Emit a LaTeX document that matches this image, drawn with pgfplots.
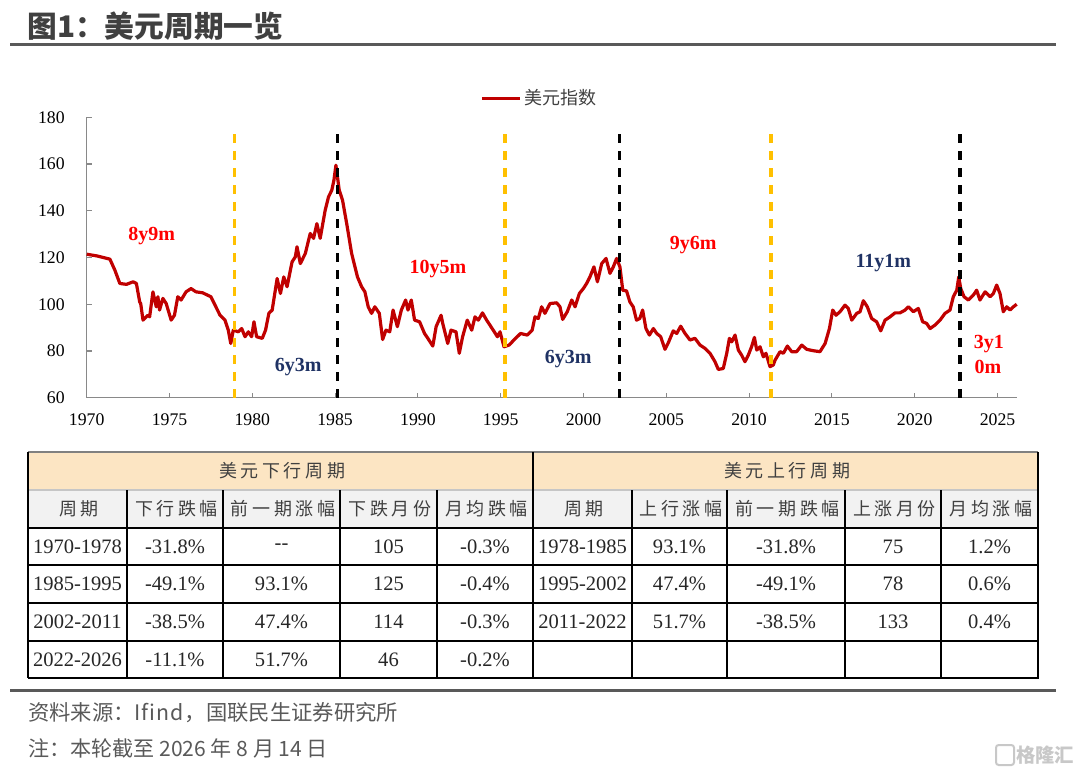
\documentclass[border=0pt]{standalone}
\usepackage{pgfplots}
\pgfplotsset{compat=1.18}
\usepackage{fontspec}
\setmainfont{Liberation Serif}
\newfontfamily\cjk{Noto Sans CJK SC}
\newfontfamily\cjksp{Noto Sans CJK SC}[LetterSpace=20]
\definecolor{dred}{RGB}{192,0,0}
\definecolor{dyel}{RGB}{255,192,0}
\definecolor{navy}{RGB}{31,50,100}
\definecolor{beige}{RGB}{252,229,195}
\definecolor{hdrgray}{RGB}{242,242,242}
\definecolor{ttl}{RGB}{64,64,64}
\definecolor{ftgray}{RGB}{89,89,89}
\definecolor{axgray}{RGB}{137,137,137}
\definecolor{numc}{RGB}{38,38,38}
\definecolor{wm}{RGB}{200,200,200}

\pgfplotstableread{
yr val
1970.0 121.4
1970.6 120.7
1971.4 119.3
1971.7 114.6
1972.0 108.9
1972.4 108.5
1972.8 109.6
1973.0 108.9
1973.2 101.0
1973.26 100.3
1973.4 93.2
1973.7 95.3
1973.8 94.6
1974.0 105.3
1974.2 98.9
1974.3 103.2
1974.4 97.5
1974.6 102.5
1974.8 100.3
1975.1 93.2
1975.3 95.3
1975.5 103.2
1975.7 101.8
1976.0 105.3
1976.3 106.7
1976.6 105.3
1977.0 104.9
1977.5 103.2
1977.8 98.9
1978.05 95.3
1978.35 93.2
1978.55 88.9
1978.7 83.2
1978.85 88.9
1979.16 88.2
1979.36 89.6
1979.56 86.1
1979.76 88.2
1979.96 86.1
1980.1 92.5
1980.26 86.1
1980.6 85.4
1980.8 88.9
1981.0 96.1
1981.2 97.5
1981.5 111.0
1981.7 104.6
1981.9 111.7
1982.1 107.5
1982.4 118.1
1982.6 120.3
1982.7 124.6
1982.9 117.4
1983.2 121.7
1983.5 130.3
1983.7 128.2
1983.9 134.5
1984.1 128.2
1984.4 140.2
1984.6 145.9
1984.8 148.8
1984.93 153.1
1985.05 159.5
1985.13 155.2
1985.25 148.8
1985.45 144.5
1985.7 134.5
1986.0 121.7
1986.2 116.0
1986.35 111.7
1986.6 107.5
1986.8 105.3
1987.0 98.9
1987.2 96.1
1987.4 98.9
1987.67 96.1
1987.87 84.9
1988.07 88.9
1988.3 88.2
1988.5 97.5
1988.76 90.4
1989.0 97.5
1989.26 101.8
1989.4 97.5
1989.6 101.8
1989.8 93.2
1990.1 92.5
1990.4 87.5
1990.6 85.4
1990.9 82.1
1991.1 90.4
1991.4 95.3
1991.5 91.8
1991.8 83.2
1992.0 88.9
1992.3 88.2
1992.5 79.0
1992.7 86.1
1992.98 93.2
1993.25 88.9
1993.45 94.6
1993.65 93.2
1993.9 96.3
1994.15 93.2
1994.55 88.9
1994.8 86.1
1994.96 88.2
1995.2 81.8
1995.5 82.5
1995.8 84.7
1996.2 87.5
1996.6 86.8
1996.9 88.9
1997.07 94.6
1997.27 93.9
1997.47 98.9
1997.67 96.1
1997.98 100.3
1998.38 100.6
1998.58 98.9
1998.74 93.5
1999.02 96.8
1999.29 101.8
1999.49 98.9
1999.75 104.6
1999.99 106.7
2000.19 108.9
2000.39 111.7
2000.63 116.0
2000.84 109.6
2001.1 117.4
2001.36 119.6
2001.6 113.2
2001.8 116.0
2002.0 119.6
2002.2 116.0
2002.37 106.0
2002.6 105.7
2002.8 101.0
2003.0 98.9
2003.2 93.2
2003.4 93.9
2003.57 97.5
2003.77 89.6
2003.98 86.8
2004.22 89.6
2004.42 87.5
2004.66 86.1
2004.92 80.7
2005.12 83.5
2005.42 88.6
2005.63 87.5
2005.87 90.6
2006.13 87.5
2006.43 84.7
2006.73 85.4
2007.04 82.5
2007.34 81.1
2007.64 79.0
2007.94 75.4
2008.14 72.1
2008.44 72.5
2008.65 79.0
2008.81 85.4
2008.95 83.9
2009.15 86.8
2009.35 80.4
2009.55 78.2
2009.75 75.4
2009.95 78.2
2010.15 81.8
2010.32 85.8
2010.46 80.4
2010.66 81.8
2010.86 77.5
2011.02 79.0
2011.26 73.3
2011.46 74.0
2011.57 76.1
2011.87 79.7
2012.07 79.0
2012.31 82.1
2012.57 79.7
2012.87 79.7
2013.18 82.5
2013.48 80.7
2013.88 80.1
2014.28 79.7
2014.59 83.2
2014.85 89.6
2015.05 97.5
2015.25 95.3
2015.49 96.8
2015.79 99.6
2015.99 98.2
2016.2 93.2
2016.5 96.1
2016.7 96.8
2016.9 101.5
2017.14 98.9
2017.4 93.9
2017.7 92.5
2017.95 88.6
2018.21 93.2
2018.51 94.6
2018.81 96.3
2019.11 96.3
2019.42 97.5
2019.62 98.9
2019.92 96.8
2020.22 98.2
2020.48 92.5
2020.72 91.8
2020.93 89.6
2021.23 91.1
2021.53 93.2
2021.83 96.1
2022.13 97.5
2022.33 103.2
2022.54 106.0
2022.66 111.7
2022.78 106.7
2022.98 103.2
2023.24 101.8
2023.54 103.9
2023.74 106.0
2023.94 101.8
2024.25 105.3
2024.55 103.2
2024.75 104.6
2024.95 108.2
2025.15 104.6
2025.35 96.8
2025.56 98.9
2025.76 97.5
2025.96 98.9
2026.16 100.0
}\dxy

\begin{document}
\begin{tikzpicture}[x=0.75pt,y=-0.75pt]
\useasboundingbox (0,0) rectangle (1080,773);
% title
\node[anchor=west,inner sep=0pt,text=ttl,font=\cjk\bfseries\fontsize{22.3}{26}\selectfont] at (27,26.5) {图1：美元周期一览};
\fill[ftgray] (10,43) rectangle (1056,46.3);

\begin{axis}[
  at={(65.025pt,-298.275pt)}, anchor=south west,
  width=697.5pt, height=210.3pt, scale only axis,
  xmin=1970, xmax=2026.16, ymin=60, ymax=180,
  axis x line*=bottom, axis y line*=left,
  axis line style={draw=axgray, line width=1pt, -},
  xtick={1970,1975,...,2025}, ytick={60,80,...,180},
  tick align=inside, major tick length=3.75pt,
  tick style={draw=axgray, line width=0.8pt},
  /pgf/number format/1000 sep={},
  /pgf/number format/assume math mode=true,
  xticklabel style={font=\fontsize{13.3}{16}\selectfont, yshift=-8.5pt},
  yticklabel style={font=\fontsize{13.3}{16}\selectfont, xshift=-13pt},
  legend style={at={(axis description cs:0.423,1.0688)}, anchor=west, draw=none, fill=none,
    inner sep=0pt, font=\cjk\fontsize{13.5}{16}\selectfont, text=ttl},
  legend image code/.code={\draw[#1,line width=2.25pt] (0pt,0pt) -- (28.5pt,0pt);},
  clip=false,
]
\addplot[dred, line width=2.4pt, line join=round] table[x=yr,y=val] {\dxy};
\addlegendentry{美元指数}
\addplot[forget plot, dyel, line width=2.4pt, dash pattern=on 6.75pt off 6pt] coordinates {(1978.94,60) (1978.94,174.5)};
\addplot[forget plot, black, line width=2.4pt, dash pattern=on 6.75pt off 6pt] coordinates {(1985.15,60) (1985.15,174.5)};
\addplot[forget plot, dyel, line width=2.4pt, dash pattern=on 6.75pt off 6pt] coordinates {(1995.26,60) (1995.26,174.5)};
\addplot[forget plot, black, line width=2.4pt, dash pattern=on 6.75pt off 6pt] coordinates {(2002.16,60) (2002.16,174.5)};
\addplot[forget plot, dyel, line width=2.4pt, dash pattern=on 6.75pt off 6pt] coordinates {(2011.32,60) (2011.32,174.5)};
\addplot[forget plot, black, line width=2.4pt, dash pattern=on 6.75pt off 6pt] coordinates {(2022.73,60) (2022.73,174.5)};
\end{axis}

% annotations
\begin{scope}[every node/.style={font=\bfseries\fontsize{15}{18}\selectfont, inner sep=0pt}]
\node[text=red] at (151.7,236) {8y9m};
\node[text=navy] at (298.3,366.7) {6y3m};
\node[text=red] at (438,269.3) {10y5m};
\node[text=navy] at (568.3,359.3) {6y3m};
\node[text=red] at (693.3,245.3) {9y6m};
\node[text=navy] at (883.3,262.7) {11y1m};
\node[text=red, anchor=west] at (973.5,344) {3y1};
\node[text=red, anchor=west] at (974.3,367.3) {0m};
\end{scope}

% table
\fill[beige] (28,452) rectangle (1038,490);
\fill[hdrgray] (28,490) rectangle (1038,527.7);
\draw[gray, line width=0.8pt] (28,452) -- (1038,452);
\draw[gray!45, line width=0.8pt] (28,490) -- (1038,490);
\foreach \y in {527.7,565.3,603,640.7,678.3} \draw[black, line width=1.5pt] (27.5,\y) -- (1038.5,\y);
\foreach \x in {127,223,340,437,632,727,845,941} \draw[black, line width=1.1pt] (\x,490) -- (\x,678.3);
\foreach \x in {28,533,1038} \draw[black, line width=1.4pt] (\x,452) -- (\x,678.3);

\begin{scope}[every node/.style={font=\cjksp\fontsize{13.5}{16}\selectfont, text=ttl, inner sep=0pt}]
\node at (282,471) {美元下行周期};
\node at (787,471) {美元上行周期};
\node at (79,508.8) {周期};
\node at (176.5,508.8) {下行跌幅};
\node at (283,508.8) {前一期涨幅};
\node at (390,508.8) {下跌月份};
\node at (486.5,508.8) {月均跌幅};
\node at (584,508.8) {周期};
\node at (681,508.8) {上行涨幅};
\node at (787.5,508.8) {前一期跌幅};
\node at (894.5,508.8) {上涨月份};
\node at (991,508.8) {月均涨幅};
\end{scope}

\begin{scope}[every node/.style={font=\fontsize{15.4}{18}\selectfont, text=numc, inner sep=0pt}]
\node at (77.5,546.5) {1970-1978};
\node at (175,546.5) {-31.8\%};
\node at (281.5,546.5) {-{}-};
\node at (388.5,546.5) {105};
\node at (485,546.5) {-0.3\%};
\node at (77.5,584.2) {1985-1995};
\node at (175,584.2) {-49.1\%};
\node at (281.5,584.2) {93.1\%};
\node at (388.5,584.2) {125};
\node at (485,584.2) {-0.4\%};
\node at (77.5,621.8) {2002-2011};
\node at (175,621.8) {-38.5\%};
\node at (281.5,621.8) {47.4\%};
\node at (388.5,621.8) {114};
\node at (485,621.8) {-0.3\%};
\node at (77.5,659.5) {2022-2026};
\node at (175,659.5) {-11.1\%};
\node at (281.5,659.5) {51.7\%};
\node at (388.5,659.5) {46};
\node at (485,659.5) {-0.2\%};
\node at (582.5,546.5) {1978-1985};
\node at (679.5,546.5) {93.1\%};
\node at (786,546.5) {-31.8\%};
\node at (893,546.5) {75};
\node at (989.5,546.5) {1.2\%};
\node at (582.5,584.2) {1995-2002};
\node at (679.5,584.2) {47.4\%};
\node at (786,584.2) {-49.1\%};
\node at (893,584.2) {78};
\node at (989.5,584.2) {0.6\%};
\node at (582.5,621.8) {2011-2022};
\node at (679.5,621.8) {51.7\%};
\node at (786,621.8) {-38.5\%};
\node at (893,621.8) {133};
\node at (989.5,621.8) {0.4\%};
\end{scope}

\fill[ftgray] (10,689) rectangle (1056,692.3);
\node[anchor=west,inner sep=0pt,text=ftgray,font=\cjk\fontsize{16}{18}\selectfont] at (28,712.5) {资料来源：I\kern0.6pt f\kern0.6pt i\kern0.6pt n\kern0.6pt d\kern1pt，国联民生证券研究所};
\node[anchor=west,inner sep=0pt,text=ftgray,font=\cjk\fontsize{15.8}{18}\selectfont] at (28,748.5) {注：本轮截至 2026 年 8 月 14 日};

% watermark
\draw[wm, line width=1.5pt, rounded corners=2pt] (996,745) rectangle (1014,765);
\node[anchor=west,inner sep=0pt,text=wm,font=\cjk\bfseries\fontsize{14.5}{16}\selectfont] at (1016,755) {格隆汇};
\end{tikzpicture}
\end{document}
